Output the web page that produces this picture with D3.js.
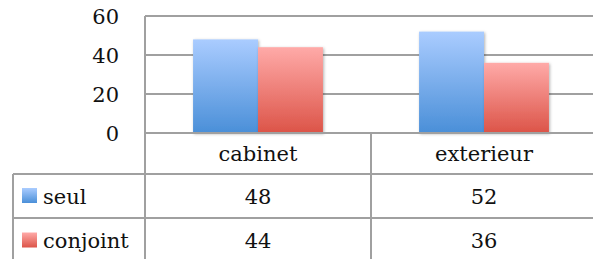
<!DOCTYPE html>
<html>
<head>
<meta charset="utf-8">
<script src="https://cdn.jsdelivr.net/npm/d3@7"></script>
<style>
  body { margin: 0; background: #fff; }
  svg { display: block; }
  text { font-family: "DejaVu Serif", serif; fill: #111; }
</style>
</head>
<body>
<svg width="593" height="259"></svg>
<script>
// chart data
const categories = ["cabinet", "exterieur"];
const seriesNames = ["seul", "conjoint"];
const seul = [48, 52];
const conjoint = [44, 36];
const yTicks = [0, 20, 40, 60];

const series = [
    { name: seriesNames[0], values: seul, top: "#aaccff", bottom: "#4a8fd8" },
    { name: seriesNames[1], values: conjoint, top: "#ffaaa8", bottom: "#dc5448" }
];

const svg = d3.select("svg");
const gridColor = "#a0a0a0";

const plot = { left: 145, top: 16, bottom: 133 };
const catWidth = 226;
const tableLeft = 13;
const rowY = [133, 174, 218, 263];

const x = d3.scaleBand()
    .domain(categories)
    .range([plot.left, plot.left + catWidth * categories.length]);

const xInner = d3.scaleBand()
    .domain(seriesNames)
    .range([0, x.bandwidth()])
    .paddingOuter(0.74)
    .paddingInner(0);

const y = d3.scaleLinear().domain([0, 60]).range([plot.bottom, plot.top]);

// gradients + shadow
const defs = svg.append("defs");
series.forEach((s, i) => {
    const g = defs.append("linearGradient")
        .attr("id", "grad" + i)
        .attr("x1", 0).attr("y1", 0).attr("x2", 0).attr("y2", 1);
    g.append("stop").attr("offset", "0%").attr("stop-color", s.top);
    g.append("stop").attr("offset", "100%").attr("stop-color", s.bottom);
});
const f = defs.append("filter").attr("id", "shadow")
    .attr("x", "-20%").attr("y", "-20%").attr("width", "140%").attr("height", "140%");
f.append("feDropShadow").attr("dx", 1).attr("dy", 1).attr("stdDeviation", 1.5)
    .attr("flood-color", "#000").attr("flood-opacity", 0.3);

// gridlines
svg.append("g")
    .selectAll("line")
    .data(yTicks)
    .join("line")
    .attr("x1", plot.left).attr("x2", 593)
    .attr("y1", d => y(d)).attr("y2", d => y(d))
    .attr("stroke", gridColor).attr("stroke-width", 2);

// y axis line
svg.append("line")
    .attr("x1", plot.left).attr("x2", plot.left)
    .attr("y1", plot.top).attr("y2", plot.bottom)
    .attr("stroke", gridColor).attr("stroke-width", 2);

// y tick labels
svg.append("g")
    .selectAll("text")
    .data(yTicks)
    .join("text")
    .attr("x", 119)
    .attr("y", d => y(d))
    .attr("dy", "0.36em")
    .attr("text-anchor", "end")
    .style("font-size", "21px")
    .text(d => d);

// bars
series.forEach((s, i) => {
    svg.append("g")
        .selectAll("rect")
        .data(categories)
        .join("rect")
        .attr("x", c => x(c) + xInner(s.name))
        .attr("width", xInner.bandwidth())
        .attr("y", (c, j) => y(s.values[j]))
        .attr("height", (c, j) => y(0) - y(s.values[j]))
        .attr("fill", "url(#grad" + i + ")")
        .attr("filter", "url(#shadow)");
});

// redraw baseline on top
svg.append("line")
    .attr("x1", plot.left).attr("x2", 593)
    .attr("y1", y(0)).attr("y2", y(0))
    .attr("stroke", gridColor).attr("stroke-width", 2);

// data table
const table = svg.append("g");
// horizontal lines
table.selectAll("line.h")
    .data(rowY.slice(1, 3))
    .join("line")
    .attr("class", "h")
    .attr("x1", tableLeft).attr("x2", 593)
    .attr("y1", d => d).attr("y2", d => d)
    .attr("stroke", gridColor).attr("stroke-width", 2);
// vertical lines
const vx = [plot.left, ...categories.slice(1).map(c => x(c))];
table.selectAll("line.v")
    .data(vx)
    .join("line")
    .attr("class", "v")
    .attr("x1", d => d).attr("x2", d => d)
    .attr("y1", rowY[0]).attr("y2", 259)
    .attr("stroke", gridColor).attr("stroke-width", 2);
table.append("line")
    .attr("x1", tableLeft).attr("x2", tableLeft)
    .attr("y1", rowY[1]).attr("y2", 259)
    .attr("stroke", gridColor).attr("stroke-width", 2);

// category headers
table.selectAll("text.cat")
    .data(categories)
    .join("text")
    .attr("class", "cat")
    .attr("x", c => x(c) + x.bandwidth() / 2)
    .attr("y", (rowY[0] + rowY[1]) / 2)
    .attr("dy", "0.36em")
    .attr("text-anchor", "middle")
    .style("font-size", "21px")
    .text(c => c);

// series rows
series.forEach((s, i) => {
    const cy = (rowY[i + 1] + rowY[i + 2]) / 2;
    table.append("rect")
        .attr("x", 22).attr("y", cy - 8)
        .attr("width", 15).attr("height", 15)
        .attr("fill", "url(#grad" + i + ")");
    table.append("text")
        .attr("x", 43).attr("y", cy)
        .attr("dy", "0.36em")
        .style("font-size", "21px")
        .text(s.name);
    table.selectAll("text.v" + i)
        .data(categories)
        .join("text")
        .attr("x", c => x(c) + x.bandwidth() / 2)
        .attr("y", cy)
        .attr("dy", "0.36em")
        .attr("text-anchor", "middle")
        .style("font-size", "21px")
        .text((c, j) => s.values[j]);
});
</script>
</body>
</html>
